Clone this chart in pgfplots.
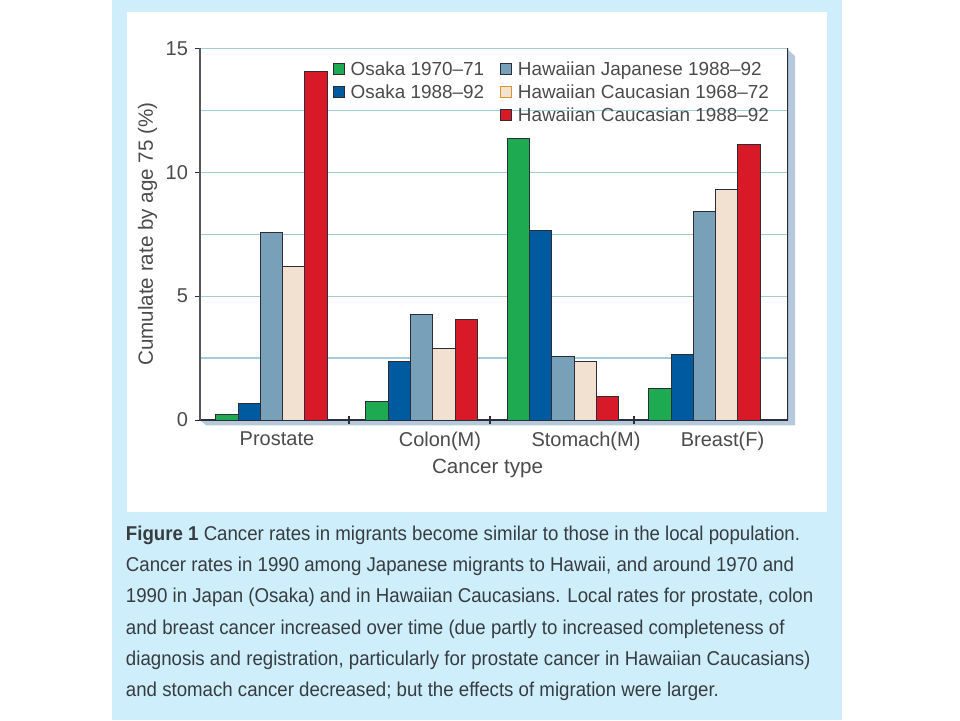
\documentclass[border=0pt]{standalone}
\usepackage{fontspec}
\setmainfont{Liberation Sans}
\newfontfamily\capfont[FakeStretch=0.933]{Liberation Sans}
\usepackage{pgfplots}
\pgfplotsset{compat=1.18}
\definecolor{panel}{RGB}{205,238,250}
\definecolor{cgreen}{RGB}{30,170,80}
\definecolor{cblue}{RGB}{0,90,160}
\definecolor{cgray}{RGB}{120,160,185}
\definecolor{cbeige}{RGB}{242,224,208}
\definecolor{cred}{RGB}{215,25,40}
\definecolor{gridc}{RGB}{160,205,215}
\definecolor{edge}{RGB}{45,45,55}
\definecolor{txt}{RGB}{75,75,75}
\definecolor{captxt}{RGB}{55,60,65}
\definecolor{shadowc}{RGB}{180,202,220}
\definecolor{legorange}{RGB}{215,150,40}
\pgfplotsset{
  leg/.style 2 args={legend image code/.code={\draw[fill=#1,draw=#2,line width=0.5pt] (0pt,-2.4pt) rectangle (5.4pt,3.0pt);}},
}
\begin{document}
\begin{tikzpicture}
\path[use as bounding box, fill=white] (0,0) rectangle (480pt,360pt);
\fill[panel] (56pt,0pt) rectangle (421.2pt,360pt);
\fill[white] (63.4pt,104.2pt) rectangle (413.3pt,354.2pt);
\fill[shadowc] (103pt,147.3pt) -- (397.5pt,147.3pt) -- (397.5pt,332pt) -- (394pt,335pt) -- (394pt,150pt) -- (100pt,150pt) -- cycle;
\begin{axis}[
  at={(100pt,150pt)}, anchor=south west,
  scale only axis, width=294pt, height=185.85pt,
  xmin=-0.4954, xmax=3.5787, ymin=0, ymax=15,
  ybar=0pt, bar width=0.1545,
  axis x line*=bottom, axis y line*=left,
  x axis line style={draw=edge, line width=1pt, -},
  y axis line style={draw=edge!80, line width=0.6pt, -},
  ytick={0,5,10,15}, minor ytick={2.5,7.5,12.5},
  ymajorgrids, yminorgrids,
  major grid style={gridc, line width=0.6pt},
  minor grid style={gridc, line width=0.6pt},
  tick align=outside, major tick length=2.5pt, minor tick length=0pt,
  ytick style={draw=edge, line width=0.5pt},
  /pgf/number format/assume math mode=true,
  y tick label style={font=\fontsize{10}{12}\selectfont, text=txt},
  xtick={0.038,1.167,2.179,3.125},
  xticklabels={Prostate,Colon(M),Stomach(M),Breast(F)},
  xtick style={draw=none},
  x tick label style={font=\fontsize{10}{12}\selectfont, text=txt, yshift=0pt},
  extra x ticks={0.537,1.514,2.511},
  extra x tick labels={},
  extra x tick style={major tick length=4pt, tick align=center, xtick style={draw=edge, line width=0.6pt}},
  ylabel={Cumulate rate by age 75 (\%)},
  ylabel style={at={(axis description cs:-0.089,0.5)}, anchor=center, font=\fontsize{10.3}{12}\selectfont, text=txt},
  xlabel={Cancer type},
  xlabel style={at={(axis description cs:0.489,-0.131)}, anchor=center, font=\fontsize{10.3}{12}\selectfont, text=txt},
  legend columns=3, transpose legend,
  legend cell align=left,
  legend style={at={(axis description cs:0.226,0.9726)}, anchor=north west,
    draw=none, fill=none, inner sep=0pt, outer sep=0pt,
    font=\fontsize{9.45}{11}\selectfont, text=txt,
    nodes={text height=7.4pt, text depth=2.1pt, inner xsep=1.5pt, inner ysep=1pt},
    /tikz/every even column/.append style={column sep=6.5pt},
    /tikz/every odd column/.append style={column sep=1.5pt}},
]
\addplot[fill=cgreen, draw=edge, line width=0.5pt, leg={cgreen}{edge}] coordinates {(0,0.23) (1.04,0.74) (2.02,11.37) (3,1.28)};
\addlegendentry{Osaka 1970--71}
\addplot[fill=cblue, draw=edge, line width=0.5pt, leg={cblue}{edge}] coordinates {(0,0.65) (1.04,2.35) (2.02,7.64) (3,2.65)};
\addlegendentry{Osaka 1988--92}
\addlegendimage{empty legend}
\addlegendentry{}
\addplot[fill=cgray, draw=edge, line width=0.5pt, leg={cgray}{edge}] coordinates {(0,7.56) (1.04,4.27) (2.02,2.55) (3,8.40)};
\addlegendentry{Hawaiian Japanese 1988--92}
\addplot[fill=cbeige, draw=edge, line width=0.5pt, leg={cbeige}{legorange}] coordinates {(0,6.19) (1.04,2.89) (2.02,2.35) (3,9.32)};
\addlegendentry{Hawaiian Caucasian 1968--72}
\addplot[fill=cred, draw=edge, line width=0.5pt, leg={cred}{edge}] coordinates {(0,14.06) (1.04,4.04) (2.02,0.94) (3,11.13)};
\addlegendentry{Hawaiian Caucasian 1988--92}
\draw[edge, line width=1.2pt] (rel axis cs:1,0) -- (rel axis cs:1,1);
\end{axis}
\begin{scope}[every node/.style={anchor=base west, inner sep=0pt, text=captxt, font=\capfont\fontsize{10}{12}\selectfont}]
\node at (62.8pt,90pt) {\textbf{Figure 1} Cancer rates in migrants become similar to those in the local population.};
\node at (62.8pt,74.35pt) {Cancer rates in 1990 among Japanese migrants to Hawaii, and around 1970 and};
\node at (62.8pt,58.7pt) {1990 in Japan (Osaka) and in Hawaiian Caucasians. Local rates for prostate, colon};
\node at (62.8pt,43pt) {and breast cancer increased over time (due partly to increased completeness of};
\node at (62.8pt,27.4pt) {diagnosis and registration, particularly for prostate cancer in Hawaiian Caucasians)};
\node at (62.8pt,11.75pt) {and stomach cancer decreased; but the effects of migration were larger.};
\end{scope}
\end{tikzpicture}
\end{document}
